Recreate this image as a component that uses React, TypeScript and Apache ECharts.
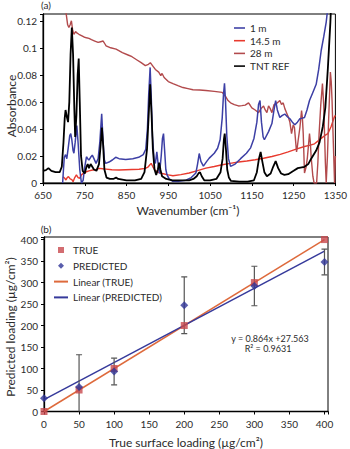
import React, { useEffect, useRef } from "react";
import * as echarts from "echarts";

// ---------- Panel (a) spectra ----------
const tntWn = [650, 657, 663, 670, 680, 690, 695, 699, 702, 704, 707, 710, 713, 716, 719, 722, 725, 727, 730, 733, 735.5, 738, 741, 745, 750, 754, 757, 760, 764, 768, 772, 778, 784, 788, 791, 794, 797, 802, 810, 818, 825, 830, 850, 870, 885, 893, 899, 903, 906.5, 910, 913, 917, 921, 925, 928, 931, 935, 945, 960, 980, 1000, 1010, 1018, 1023, 1026, 1030, 1036, 1050, 1065, 1075, 1080, 1083, 1085, 1088, 1091, 1095, 1100, 1120, 1140, 1155, 1162, 1167, 1171, 1175, 1180, 1186, 1195, 1201, 1207, 1213, 1220, 1228, 1237, 1250, 1260, 1276, 1285, 1292, 1304, 1312, 1320, 1326, 1332, 1338, 1342, 1350];
const tntAbs = [0.009, 0.0095, 0.011, 0.009, 0.008, 0.008, 0.012, 0.03, 0.048, 0.054, 0.049, 0.045, 0.06, 0.095, 0.115, 0.095, 0.055, 0.034, 0.05, 0.08, 0.092, 0.06, 0.02, 0.009, 0.007, 0.012, 0.014, 0.011, 0.014, 0.012, 0.01, 0.009, 0.014, 0.028, 0.041, 0.028, 0.01, 0.004, 0.003, 0.003, 0.004, 0.003, 0.002, 0.002, 0.003, 0.008, 0.025, 0.05, 0.073, 0.05, 0.025, 0.01, 0.006, 0.01, 0.015, 0.01, 0.005, 0.003, 0.002, 0.002, 0.002, 0.003, 0.005, 0.0075, 0.0078, 0.005, 0.002, 0.002, 0.003, 0.008, 0.018, 0.032, 0.0365, 0.025, 0.01, 0.004, 0.0015, 0.001, 0.001, 0.002, 0.008, 0.018, 0.023, 0.016, 0.008, 0.005, 0.007, 0.012, 0.0162, 0.011, 0.007, 0.006, 0.0065, 0.009, 0.011, 0.012, 0.014, 0.018, 0.024, 0.03, 0.042, 0.056, 0.085, 0.119, 0.15, 0.2];

const m1Wn = [697, 699, 701, 704, 707, 710, 714, 716.5, 719, 722, 724, 727, 731, 734, 738, 742, 746, 750, 754, 757, 760, 764, 768, 772, 777, 782, 786, 790.5, 794, 797, 800, 808, 816, 824, 832, 848, 865, 879, 890, 896, 900, 903, 906.5, 909, 912, 916, 919, 922.5, 926, 929, 933, 936, 938.5, 941, 944, 947, 952, 960, 975, 992, 1005, 1016, 1020, 1024, 1028, 1034, 1042, 1048, 1060, 1068, 1074, 1079, 1082, 1084.5, 1087, 1090, 1094, 1099, 1110, 1123, 1137, 1147, 1155, 1162, 1166, 1169.5, 1173, 1177, 1180, 1190, 1198, 1203, 1207, 1211, 1217, 1223, 1229, 1235, 1241, 1247, 1253, 1259, 1265, 1271, 1276, 1282, 1288, 1296, 1304, 1310, 1316, 1322, 1328, 1332, 1340, 1350];
const m1Abs = [0, 0.01, 0.019, 0.021, 0.018, 0.025, 0.035, 0.0365, 0.032, 0.024, 0.022, 0.03, 0.0424, 0.03, 0.01, 0, 0.002, 0.012, 0.0194, 0.018, 0.017, 0.019, 0.0206, 0.018, 0.0145, 0.018, 0.03, 0.0512, 0.03, 0.017, 0.0145, 0.0155, 0.017, 0.019, 0.018, 0.0174, 0.018, 0.019, 0.021, 0.025, 0.04, 0.065, 0.0855, 0.065, 0.035, 0.017, 0.0145, 0.023, 0.013, 0.007, 0.02, 0.033, 0.0365, 0.025, 0.01, 0.006, 0.003, 0.0013, 0.0012, 0.002, 0.004, 0.0074, 0.014, 0.0218, 0.016, 0.0125, 0.016, 0.0184, 0.022, 0.0257, 0.032, 0.048, 0.065, 0.0738, 0.06, 0.035, 0.018, 0.0123, 0.014, 0.018, 0.022, 0.026, 0.033, 0.045, 0.058, 0.061, 0.045, 0.034, 0.032, 0.038, 0.044, 0.054, 0.061, 0.054, 0.0485, 0.05, 0.051, 0.049, 0.0475, 0.045, 0.043, 0.045, 0.0475, 0.048, 0.0485, 0.054, 0.061, 0.067, 0.073, 0.084, 0.098, 0.108, 0.119, 0.13, 0.16, 0.2];

const m145Wn = [698, 702, 705, 708, 711, 715, 719, 722, 726, 730, 734, 738, 742, 746, 750, 754, 760, 769, 777, 785, 793, 801, 815, 832, 848, 863, 880, 895, 902, 906, 909, 913, 918, 923, 935, 950, 961, 980, 1000, 1020, 1040, 1060, 1079, 1098, 1118, 1138, 1158, 1178, 1198, 1218, 1237, 1256, 1276, 1290, 1300, 1308, 1316, 1324, 1332, 1340, 1347, 1350];
const m145Abs = [0.0047, 0.0035, 0.0022, 0.004, 0.0047, 0.003, 0.0025, 0.001, 0.004, 0.006, 0.004, 0.0035, 0.006, 0.0071, 0.0075, 0.0083, 0.009, 0.0096, 0.01, 0.0108, 0.0105, 0.0103, 0.0098, 0.0096, 0.0098, 0.01, 0.0102, 0.0108, 0.012, 0.0135, 0.0145, 0.012, 0.0095, 0.0083, 0.007, 0.006, 0.0054, 0.0062, 0.0074, 0.0092, 0.011, 0.0122, 0.0135, 0.0145, 0.0155, 0.0163, 0.0172, 0.0183, 0.0196, 0.0212, 0.023, 0.025, 0.027, 0.028, 0.029, 0.031, 0.033, 0.035, 0.0365, 0.042, 0.0485, 0.05];

const m28Wn = [703, 706, 709, 712, 715, 718, 721, 724, 728, 731, 736, 742, 748, 754, 760, 766, 774, 782, 788, 794, 798, 801, 812, 825, 840, 855, 863, 875, 885, 895, 901, 907, 913, 919, 927, 932, 935, 940, 945, 950, 961, 973, 985, 997, 1009, 1025, 1040, 1060, 1079, 1087, 1093, 1099, 1108, 1118, 1126, 1134, 1142, 1146, 1150, 1158, 1166, 1172, 1178, 1182, 1186, 1190, 1194, 1198, 1203, 1210, 1217, 1221, 1225, 1229, 1233, 1237, 1241, 1245, 1249, 1252, 1255, 1257, 1259, 1261, 1265, 1269, 1271, 1273, 1276, 1280, 1283, 1288, 1290, 1292, 1296, 1299, 1305, 1308, 1311, 1315, 1319, 1322, 1324, 1326, 1328, 1331, 1334, 1338, 1340, 1342, 1345, 1348, 1350];
const m28Abs = [0.13, 0.124, 0.117, 0.115, 0.117, 0.12, 0.113, 0.11, 0.112, 0.111, 0.11, 0.109, 0.108, 0.1074, 0.107, 0.106, 0.105, 0.104, 0.1045, 0.105, 0.103, 0.1015, 0.1, 0.099, 0.0965, 0.0945, 0.0934, 0.091, 0.089, 0.0868, 0.0875, 0.089, 0.0865, 0.084, 0.082, 0.0795, 0.081, 0.078, 0.0765, 0.075, 0.0735, 0.072, 0.0706, 0.0698, 0.069, 0.0688, 0.0684, 0.0678, 0.067, 0.064, 0.061, 0.0593, 0.058, 0.057, 0.0572, 0.0576, 0.0593, 0.0575, 0.0556, 0.054, 0.052, 0.055, 0.057, 0.054, 0.052, 0.057, 0.055, 0.052, 0.058, 0.059, 0.061, 0.058, 0.0593, 0.055, 0.052, 0.049, 0.045, 0.0365, 0.043, 0.041, 0.03, 0.023, 0.027, 0.032, 0.041, 0.0536, 0.048, 0.0365, 0.0074, 0.012, 0.019, 0.0365, 0.03, 0.019, 0.005, 0, 0, 0.015, 0.0365, 0.058, 0.0735, 0.058, 0.0365, 0.015, 0, 0.02, 0.0485, 0.082, 0.075, 0.061, 0.03, 0, 0.02];

const specXTicks = ["650", "750", "850", "950", "1050", "1150", "1250", "1350"];
const specNames = ["1 m", "14.5 m", "28 m", "TNT REF"];

// ---------- Panel (b) calibration ----------
const trueLoading = [0, 50, 100, 200, 300, 400];
const trueValues = [0, 50, 100, 200, 300, 400];
const predictedValues = [31, 57, 93, 247, 292, 348];
const predictedError = [0, 75, 31, 66, 46, 30];
const fitSlope = 0.864;
const fitIntercept = 27.563;
const fitRange = [0, 400];

const FONT = "Lato";
const TXT = "#2b2b2b";
const LINE_ICON = "path://M0,0L14,0L14,2L0,2Z";
const SQUARE_ICON = "path://M0,0L6,0L6,6L0,6Z";
const DIAMOND_ICON = "path://M3,0L6,3L3,6L0,3Z";

const zip = (xs: number[], ys: number[]) => xs.map((x, i) => [x, ys[i]]);

export default function App() {
  const ref = useRef<HTMLDivElement>(null);
  useEffect(() => {
    if (!ref.current) return;
    const chart = echarts.init(ref.current, undefined, { renderer: "svg" });

    const errData = trueLoading.map((x, i) => [x, predictedValues[i] - predictedError[i], predictedValues[i] + predictedError[i]]);
    const trueFit = fitRange.map((x) => [x, x]);
    const predFit = fitRange.map((x) => [x, +(fitSlope * x + fitIntercept).toFixed(3)]);

    const axisCommon = {
      axisLine: { lineStyle: { color: "#000", width: 1.3 } },
      axisTick: { inside: false, length: 3, lineStyle: { color: "#000", width: 1 } },
      splitLine: { show: false },
    };

    const option: any = {
      animation: false,
      textStyle: { fontFamily: FONT },
      grid: [
        { left: 43, top: 14, width: 297, height: 169, show: true, borderColor: "#000", borderWidth: 1, backgroundColor: "transparent" },
        { left: 44, top: 237, width: 284, height: 174.5, show: true, borderColor: "#000", borderWidth: 1, backgroundColor: "transparent" },
      ],
      xAxis: [
        {
          gridIndex: 0, type: "value", min: 650, max: 1350, interval: 100, ...axisCommon,
          axisLabel: { color: TXT, fontSize: 10, fontFamily: FONT, margin: 7, formatter: (v: number) => (specXTicks.includes(String(Math.round(v))) ? String(Math.round(v)) : "") },
        },
        {
          gridIndex: 1, type: "value", min: 0, max: 405, interval: 50, ...axisCommon,
          axisLabel: { color: TXT, fontSize: 10, fontFamily: FONT, margin: 7, formatter: (v: number) => (Math.abs(v % 50) < 1e-6 ? String(v) : "") },
        },
      ],
      yAxis: [
        {
          gridIndex: 0, type: "value", min: 0, max: 0.125, interval: 0.02, ...axisCommon,
          axisLabel: {
            color: TXT, fontSize: 10, fontFamily: FONT, margin: 6,
            formatter: (v: number) => {
              const k = Math.round(v / 0.02);
              if (Math.abs(v - k * 0.02) > 1e-6) return "";
              return String(+(k * 0.02).toFixed(2));
            },
          },
        },
        {
          gridIndex: 1, type: "value", min: 0, max: 406, interval: 50, ...axisCommon,
          axisLabel: { color: TXT, fontSize: 10, fontFamily: FONT, margin: 6, formatter: (v: number) => (Math.abs(v % 50) < 1e-6 ? String(v) : "") },
        },
      ],
      legend: [
        {
          left: 229, top: 17, orient: "vertical", itemWidth: 11, itemHeight: 6, itemGap: 0.7,
          textStyle: { fontSize: 10, color: TXT, fontFamily: FONT, lineHeight: 12 },
          data: specNames.map((n) => ({ name: n, icon: LINE_ICON })),
        },
        {
          left: 49, top: 239, orient: "vertical", itemWidth: 14, itemHeight: 6, itemGap: 3.8,
          textStyle: { fontSize: 10, color: TXT, fontFamily: FONT, lineHeight: 12 },
          data: [
            { name: "TRUE", icon: SQUARE_ICON },
            { name: "PREDICTED", icon: DIAMOND_ICON },
            { name: "Linear (TRUE)", icon: LINE_ICON },
            { name: "Linear (PREDICTED)", icon: LINE_ICON },
          ],
        },
      ],
      series: [
        { name: "1 m", type: "line", xAxisIndex: 0, yAxisIndex: 0, data: zip(m1Wn, m1Abs), symbol: "none", lineStyle: { color: "#3c3fa5", width: 1.5 }, itemStyle: { color: "#3c3fa5" }, z: 3 },
        { name: "14.5 m", type: "line", xAxisIndex: 0, yAxisIndex: 0, data: zip(m145Wn, m145Abs), symbol: "none", lineStyle: { color: "#e83a2e", width: 1.4 }, itemStyle: { color: "#e83a2e" }, z: 2 },
        { name: "28 m", type: "line", xAxisIndex: 0, yAxisIndex: 0, data: zip(m28Wn, m28Abs), symbol: "none", lineStyle: { color: "#b24a4c", width: 1.4 }, itemStyle: { color: "#b24a4c" }, z: 2 },
        { name: "TNT REF", type: "line", xAxisIndex: 0, yAxisIndex: 0, data: zip(tntWn, tntAbs), symbol: "none", lineStyle: { color: "#000", width: 1.8 }, itemStyle: { color: "#000" }, z: 4 },

        { name: "Linear (TRUE)", type: "line", xAxisIndex: 1, yAxisIndex: 1, data: trueFit, symbol: "none", lineStyle: { color: "#de6a3c", width: 1.5 }, itemStyle: { color: "#de6a3c" }, z: 2 },
        { name: "Linear (PREDICTED)", type: "line", xAxisIndex: 1, yAxisIndex: 1, data: predFit, symbol: "none", lineStyle: { color: "#363a9b", width: 1.5 }, itemStyle: { color: "#363a9b" }, z: 2 },
        {
          name: "err", type: "custom", xAxisIndex: 1, yAxisIndex: 1, data: errData, encode: { x: 0, y: [1, 2] }, clip: true, z: 3,
          renderItem: (params: any, api: any) => {
            const x = api.value(0);
            const lo = api.value(1);
            const hi = api.value(2);
            if (hi - lo < 1e-6) return null;
            const a = api.coord([x, lo]);
            const b = api.coord([x, hi]);
            const w = 3;
            const st = { stroke: "#555", lineWidth: 1.2 };
            return {
              type: "group",
              children: [
                { type: "line", shape: { x1: a[0], y1: a[1], x2: b[0], y2: b[1] }, style: st },
                { type: "line", shape: { x1: a[0] - w, y1: a[1], x2: a[0] + w, y2: a[1] }, style: st },
                { type: "line", shape: { x1: b[0] - w, y1: b[1], x2: b[0] + w, y2: b[1] }, style: st },
              ],
            };
          },
        },
        { name: "TRUE", type: "scatter", xAxisIndex: 1, yAxisIndex: 1, data: zip(trueLoading, trueValues), symbol: "rect", symbolSize: 7, itemStyle: { color: "#c8484e" }, z: 4 },
        { name: "PREDICTED", type: "scatter", xAxisIndex: 1, yAxisIndex: 1, data: zip(trueLoading, predictedValues), symbol: "diamond", symbolSize: 8, itemStyle: { color: "#2f3497" }, z: 5 },
      ],
      graphic: [
        { type: "text", x: 46, y: 5, style: { text: "(a)", fontSize: 10, fontFamily: FONT, fill: TXT, align: "center", verticalAlign: "middle" } },
        { type: "text", x: 46, y: 229, style: { text: "(b)", fontSize: 10, fontFamily: FONT, fill: TXT, align: "center", verticalAlign: "middle" } },
        { type: "text", x: 11, y: 106, rotation: Math.PI / 2, style: { text: "Absorbance", fontSize: 12, fontFamily: FONT, fill: TXT, align: "center", verticalAlign: "middle" } },
        { type: "text", x: 188, y: 210, style: { text: "Wavenumber (cm⁻¹)", fontSize: 12, fontFamily: FONT, fill: TXT, align: "center", verticalAlign: "middle" } },
        { type: "text", x: 10, y: 327, rotation: Math.PI / 2, style: { text: "Predicted loading (µg/cm²)", fontSize: 12, fontFamily: FONT, fill: TXT, align: "center", verticalAlign: "middle" } },
        { type: "text", x: 186, y: 442, style: { text: "True surface loading (µg/cm²)", fontSize: 12, fontFamily: FONT, fill: TXT, align: "center", verticalAlign: "middle" } },
        { type: "text", x: 270, y: 338, style: { text: "y = 0.864x +27.563", fontSize: 9, fontFamily: FONT, fill: TXT, align: "center", verticalAlign: "middle" } },
        { type: "text", x: 268, y: 348.5, style: { text: "R² = 0.9631", fontSize: 9, fontFamily: FONT, fill: TXT, align: "center", verticalAlign: "middle" } },
      ],
    };
    chart.setOption(option);
    return () => chart.dispose();
  }, []);
  return <div ref={ref} style={{ position: "fixed", left: 0, top: 0, width: 350, height: 449, background: "#fff" }} />;
}
